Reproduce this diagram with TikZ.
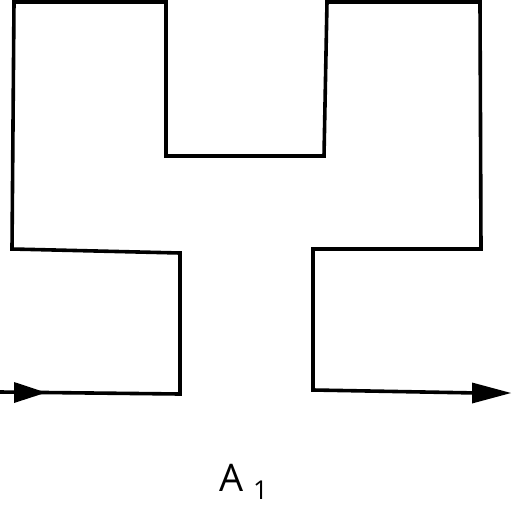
\documentclass[tikz,border=0pt]{standalone}
\usepackage{fontspec}
\setmainfont{Open Sans}
\tikzset{wire/.style={line width=3.6pt, line join=miter},
 tip/.style={fill=black}}
\begin{document}
\begin{tikzpicture}[x=1pt,y=-1pt]
\useasboundingbox (0,0) rectangle (512,512);
\coordinate (s) at (0,392);
\coordinate (p1) at (180,394);
\coordinate (p2) at (180,253);
\coordinate (p3) at (12,249);
\coordinate (p4) at (14,2);
\coordinate (p5) at (166,2);
\coordinate (p6) at (166,156);
\coordinate (p7) at (324,156);
\coordinate (p8) at (327,2);
\coordinate (p9) at (480,2);
\coordinate (p10) at (481,249);
\coordinate (p11) at (313,249);
\coordinate (p12) at (313,390);
\coordinate (e) at (478,393);
\draw[wire] (s) -- (p1) -- (p2) -- (p3) -- (p4) -- (p5) -- (p6) -- (p7) -- (p8) -- (p9) -- (p10) -- (p11) -- (p12) -- (e);
\fill[tip] (14,382) -- (46,392.6) -- (14,403) -- cycle;
\fill[tip] (472,382.5) -- (511,393) -- (472,403.5) -- cycle;
\node[font=\fontsize{38}{40}\selectfont, inner sep=0, anchor=base west] (A) at (219,491) {A};
\node[font=\fontsize{26}{28}\selectfont, inner sep=0, anchor=base west] (one) at (253,499) {1};
\end{tikzpicture}
\end{document}
